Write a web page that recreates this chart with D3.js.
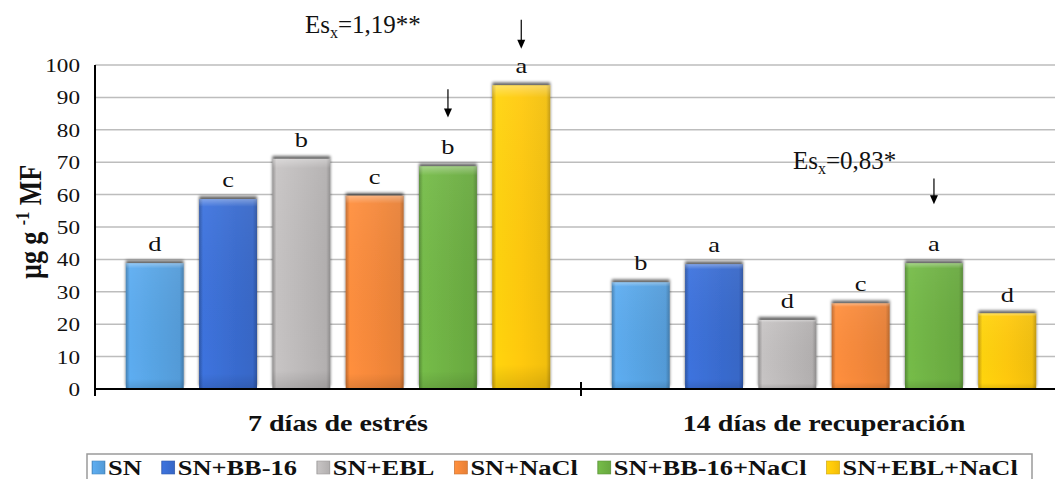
<!DOCTYPE html>
<html>
<head>
<meta charset="utf-8">
<script src="https://cdn.jsdelivr.net/npm/d3@7/dist/d3.min.js"></script>
<style>
  html, body { margin: 0; padding: 0; background: #fff; }
</style>
</head>
<body>
<svg id="chart" width="1055" height="479"></svg>
<script>
// Content (µg g-1 MF) per treatment at two sampling times
const categories = ["7 días de estrés", "14 días de recuperación"];
const treatments = ["SN", "SN+BB-16", "SN+EBL", "SN+NaCl", "SN+BB-16+NaCl", "SN+EBL+NaCl"];
const stressValues = [38.8, 58.6, 71.0, 59.6, 68.7, 93.7];
const recoveryValues = [32.9, 38.5, 21.3, 26.4, 38.8, 23.3];
const stressLetters = ["d", "c", "b", "c", "b", "a"];
const recoveryLetters = ["b", "a", "d", "c", "a", "d"];
const yTicks = [0, 10, 20, 30, 40, 50, 60, 70, 80, 90, 100];
const colors = ["#58a4e4", "#3a6dd2", "#bdbaba", "#f5883a", "#6fb244", "#ffc90a"];
// Standard-error annotations and the treatments their arrows point to
const seLabels = ["=1,19**", "=0,83*"];
const arrowTargets = [
  { group: 0, treatment: 4, from: 92.5, to: 83.8 },
  { group: 0, treatment: 5, from: 114, to: 105 },
  { group: 1, treatment: 4, from: 65, to: 57 }
];

const groupValues = [stressValues, recoveryValues];
const groupLetters = [stressLetters, recoveryLetters];
const SERIF = '"Liberation Serif", "Times New Roman", serif';
const WIDE = 1.22; // horizontal text stretch of the chart body

const svg = d3.select("#chart");
const W = 1055;
const plotLeft = 95, plotBottom = 389, plotTop = 65;

const x0 = d3.scaleBand().domain(categories).range([plotLeft, plotLeft + 2 * 486]).paddingInner(0).paddingOuter(0);
const x1 = d3.scaleBand().domain(treatments).range([0, x0.bandwidth()]).paddingInner(0.21).paddingOuter(0.42);
const y = d3.scaleLinear().domain([0, 100]).range([plotBottom, plotTop]);

// Text placed at (x, y), stretched horizontally by k
function label(parent, x, yy, k, size, anchor) {
  return parent.append("text")
    .attr("transform", `translate(${x},${yy}) scale(${k},1)`)
    .attr("text-anchor", anchor || "start")
    .attr("font-size", size).attr("fill", "#111")
    .style("font-family", SERIF);
}

const defs = svg.append("defs");
colors.forEach((c, i) => {
  const base = d3.color(c);
  const g = defs.append("linearGradient").attr("id", "hg" + i).attr("x1", 0).attr("x2", 1).attr("y1", 0).attr("y2", 0);
  g.append("stop").attr("offset", "0%").attr("stop-color", base.darker(0.7));
  g.append("stop").attr("offset", "7%").attr("stop-color", base.brighter(0.15));
  g.append("stop").attr("offset", "50%").attr("stop-color", base);
  g.append("stop").attr("offset", "93%").attr("stop-color", base.darker(0.15));
  g.append("stop").attr("offset", "100%").attr("stop-color", base.darker(0.8));
});
const vg = defs.append("linearGradient").attr("id", "vshade").attr("x1", 0).attr("x2", 0).attr("y1", 0).attr("y2", 1);
vg.append("stop").attr("offset", "0%").attr("stop-color", "#fff").attr("stop-opacity", 0.35);
vg.append("stop").attr("offset", "4%").attr("stop-color", "#fff").attr("stop-opacity", 0.05);
vg.append("stop").attr("offset", "92%").attr("stop-color", "#000").attr("stop-opacity", 0.0);
vg.append("stop").attr("offset", "100%").attr("stop-color", "#000").attr("stop-opacity", 0.12);

const shadow = defs.append("filter").attr("id", "shadow").attr("x", "-20%").attr("y", "-20%").attr("width", "140%").attr("height", "140%");
shadow.append("feGaussianBlur").attr("in", "SourceAlpha").attr("stdDeviation", 1.6).attr("result", "b");
shadow.append("feOffset").attr("in", "b").attr("dy", -3).attr("result", "o");
shadow.append("feComponentTransfer").attr("in", "o").attr("result", "s")
  .append("feFuncA").attr("type", "linear").attr("slope", 0.6);
const merge = shadow.append("feMerge");
merge.append("feMergeNode").attr("in", "s");
merge.append("feMergeNode").attr("in", "SourceGraphic");

// Horizontal gridlines
svg.append("g").selectAll("line").data(yTicks.filter(d => d > 0)).join("line")
  .attr("x1", plotLeft).attr("x2", W).attr("y1", d => y(d)).attr("y2", d => y(d))
  .attr("stroke", "#bdbdbd").attr("stroke-width", 1.5);

// Y axis: the axis generator places the ticks, labels are restyled
const yAxis = svg.append("g").attr("transform", `translate(${plotLeft},0)`)
  .call(d3.axisLeft(y).tickValues(yTicks).tickSize(0).tickPadding(0));
yAxis.select(".domain").remove();
yAxis.selectAll(".tick text").remove();
yAxis.selectAll(".tick").each(function (d) {
  label(d3.select(this), -15, 6.5, WIDE, 19, "end").text(d);
});
svg.append("line").attr("x1", plotLeft).attr("x2", plotLeft).attr("y1", plotTop).attr("y2", plotBottom + 7)
  .attr("stroke", "#000").attr("stroke-width", 2);

// Bars
const groups = svg.append("g").selectAll("g").data(categories).join("g")
  .attr("transform", d => `translate(${x0(d)},0)`);
groups.each(function (cat, gi) {
  const g = d3.select(this);
  const rows = treatments.map((t, i) => ({ t, i, v: groupValues[gi][i], l: groupLetters[gi][i] }));
  const bar = g.selectAll("g.bar").data(rows).join("g").attr("class", "bar");
  bar.append("rect")
    .attr("x", d => x1(d.t)).attr("width", x1.bandwidth())
    .attr("y", d => y(d.v)).attr("height", d => y(0) - y(d.v))
    .attr("fill", d => `url(#hg${d.i})`).attr("filter", "url(#shadow)");
  bar.append("rect")
    .attr("x", d => x1(d.t)).attr("width", x1.bandwidth())
    .attr("y", d => y(d.v)).attr("height", d => y(0) - y(d.v))
    .attr("fill", "url(#vshade)");
  bar.each(function (d) {
    label(d3.select(this), x1(d.t) + x1.bandwidth() / 2, y(d.v) - 12, 1.2, 22, "middle").text(d.l);
  });
});

// X axis
svg.append("line").attr("x1", plotLeft).attr("x2", W).attr("y1", plotBottom).attr("y2", plotBottom)
  .attr("stroke", "#000").attr("stroke-width", 2);
svg.append("line").attr("x1", x0(categories[1])).attr("x2", x0(categories[1]))
  .attr("y1", plotBottom - 7).attr("y2", plotBottom + 7).attr("stroke", "#000").attr("stroke-width", 2);
categories.forEach(c => {
  label(svg, x0(c) + x0.bandwidth() / 2, 431, 1.17, 24, "middle").attr("font-weight", "bold").text(c);
});

// Y title
const yt = svg.append("text").attr("transform", "translate(41,222) rotate(-90) scale(1,1.2)")
  .attr("text-anchor", "middle").attr("font-weight", "bold").attr("font-size", 26).attr("fill", "#111")
  .style("font-family", SERIF);
yt.append("tspan").text("µg g ");
yt.append("tspan").attr("font-size", 16).attr("dy", -10).text("-1");
yt.append("tspan").attr("dy", 10).text(" MF");

// Standard-error labels
const sePos = [[305, 33], [793, 169]];
seLabels.forEach((s, i) => {
  const t = label(svg, sePos[i][0], sePos[i][1], 1, 25);
  t.append("tspan").text("Es");
  t.append("tspan").attr("font-size", 16).attr("dy", 5).text("x");
  t.append("tspan").attr("dy", -5).text(s);
});

// Arrows
arrowTargets.forEach(a => {
  const cx = x0(categories[a.group]) + x1(treatments[a.treatment]) + x1.bandwidth() / 2;
  const y1 = y(a.from), y2 = y(a.to);
  svg.append("line").attr("x1", cx).attr("x2", cx).attr("y1", y1).attr("y2", y2 - 8)
    .attr("stroke", "#000").attr("stroke-width", 1.2);
  svg.append("path").attr("d", `M${cx - 4},${y2 - 9} L${cx + 4},${y2 - 9} L${cx},${y2} Z`).attr("fill", "#000");
});

// Legend: items laid out left to right from their measured text widths
const legend = svg.append("g");
legend.append("rect").attr("x", 87).attr("y", 454).attr("width", 945).attr("height", 40)
  .attr("fill", "none").attr("stroke", "#9a9a9a").attr("stroke-width", 1.5);
let lx = 92;
treatments.forEach((t, i) => {
  legend.append("rect").attr("x", lx).attr("y", 461).attr("width", 13).attr("height", 13)
    .attr("fill", `url(#hg${i})`).attr("stroke", d3.color(colors[i]).darker(0.5)).attr("stroke-width", 0.6);
  const txt = label(legend, lx + 16, 475, 1.2, 22).attr("font-weight", "bold").text(t);
  lx += 16 + txt.node().getComputedTextLength() * 1.2 + 20;
});
</script>
</body>
</html>
